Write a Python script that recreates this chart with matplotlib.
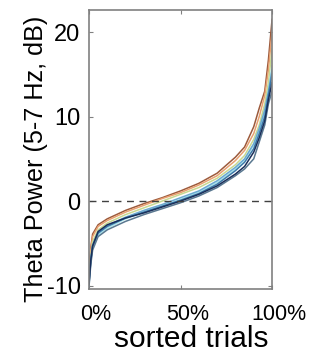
import matplotlib
matplotlib.use("Agg")
import matplotlib.pyplot as plt
import matplotlib.transforms as mtransforms
import numpy as np

plt.rcParams['font.family'] = ['Liberation Sans', 'DejaVu Sans']

pct = [0, 1, 2, 5, 10, 20, 30, 40, 50, 60, 70, 80, 85, 90, 93, 96, 98, 100]

series = {
    "#9c5a3c": [-9.0, -5.5, -3.9, -2.8, -2.1, -1.1, -0.3, 0.4, 1.2, 2.1, 3.3, 5.2, 6.4, 8.8, 11.0, 13.0, 16.7, 21.5],
    "#e8a070": [-8.5, -5.8, -4.2, -3.0, -2.3, -1.3, -0.5, 0.3, 1.0, 1.9, 3.0, 4.8, 6.0, 8.0, 10.0, 12.5, 15.5, 20.0],
    "#c8d890": [-9.0, -6.5, -4.8, -3.4, -2.6, -1.6, -0.8, 0.0, 0.8, 1.6, 2.7, 4.3, 5.4, 7.3, 9.0, 11.5, 14.0, 18.0],
    "#a8e4ec": [-9.5, -7.0, -5.5, -4.0, -3.2, -2.1, -1.3, -0.6, 0.2, 1.1, 2.2, 3.8, 4.9, 6.6, 8.5, 10.5, 13.0, 16.0],
    "#6aa8d0": [-9.5, -6.8, -5.2, -3.7, -2.9, -1.9, -1.1, -0.4, 0.4, 1.2, 2.4, 4.0, 5.0, 6.8, 8.6, 10.8, 13.0, 15.5],
    "#3a78a8": [-10.0, -7.2, -5.4, -3.8, -3.0, -2.0, -1.3, -0.6, 0.1, 0.9, 2.0, 3.6, 4.6, 6.2, 8.0, 10.0, 12.5, 15.0],
    "#5a7890": [-10.2, -7.5, -5.8, -4.2, -3.4, -2.4, -1.6, -0.9, -0.2, 0.6, 1.6, 3.0, 3.8, 5.0, 7.0, 9.0, 11.5, 13.0],
    "#1a2f5a": [-9.8, -7.0, -5.3, -3.6, -2.8, -2.0, -1.4, -0.7, 0.0, 0.8, 1.8, 3.2, 4.1, 5.8, 7.5, 9.5, 12.0, 14.0],
}

xticks = [0, 50, 100]
xticklabels = ["0%", "50%", "100%"]
yticks = [-10, 0, 10, 20]
yticklabels = ["-10", "0", "10", "20"]

fig = plt.figure(figsize=(3.27, 3.54), dpi=100)
ax = fig.add_axes([0.272, 0.1836, 0.560, 0.788])

for color, vals in series.items():
    ax.plot(pct, vals, color=color, lw=1.1, solid_joinstyle='round')

ax.axhline(0, color="#404040", lw=1.0, ls=(0, (5, 4)))

ax.set_xlim(0, 100)
ax.set_ylim(-10.4, 22.6)
ax.set_xticks(xticks)
ax.set_xticklabels(xticklabels)
ax.set_yticks(yticks)
ax.set_yticklabels(yticklabels)
ax.tick_params(direction='in', length=3, width=0.8, color='#808080',
               top=True, right=True)
ax.tick_params(axis='y', labelsize=17, pad=6)
ax.tick_params(axis='x', labelsize=15.5, pad=10.5)
shift = mtransforms.ScaledTranslation(7 / 100, 0, fig.dpi_scale_trans)
for lab in ax.get_xticklabels():
    lab.set_transform(lab.get_transform() + shift)
for s in ax.spines.values():
    s.set_color('#808080')
    s.set_linewidth(1.2)

fig.text(0.072, 0.551, "Theta Power (5-7 Hz, dB)", rotation=90,
         ha='left', va='center', fontsize=18.2)
fig.text(0.584, 0.003, "sorted trials", ha='center', va='bottom',
         fontsize=21.5)

fig.savefig("out.png", dpi=100)
